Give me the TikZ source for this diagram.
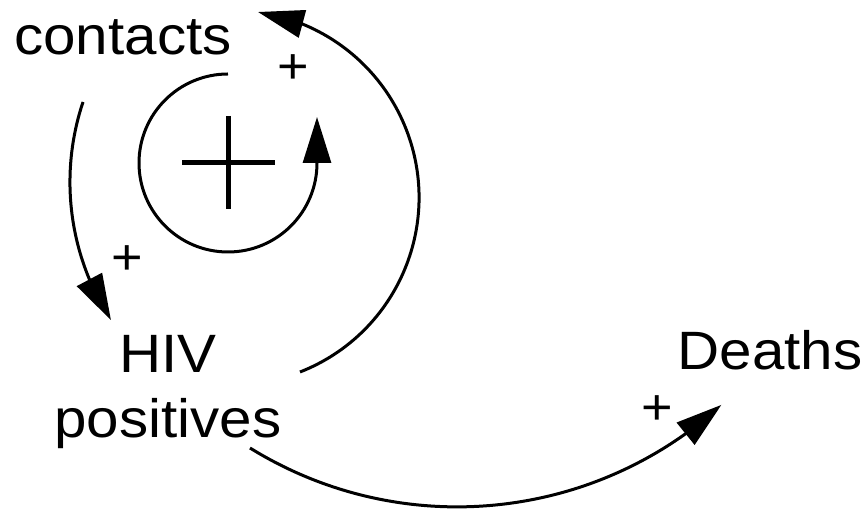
\documentclass[tikz,border=0pt]{standalone}
\usepackage{fontspec}
\setmainfont[FakeStretch=1.08]{Liberation Sans}
\usepackage{tikz}
\usetikzlibrary{arrows.meta,bending,calc}
\tikzset{>={Triangle[length=46pt,width=28pt]}}
\tikzset{var/.style={font=\fontsize{54}{65}\selectfont, inner sep=0pt, anchor=base},
  pol/.style={font=\fontsize{50}{60}\selectfont, inner sep=0pt},
  link/.style={->, line width=3pt}}

\begin{document}
\begin{tikzpicture}[x=1pt,y=1pt]
  \useasboundingbox (0,0) rectangle (866,510);
  % Variables
  \node[var] (contacts) at (123,455) {contacts};
  \node[var, align=center] (hiv) at (168,72) {HIV\\positives};
  \node[var] (deaths) at (770,140) {Deaths};

  % Ends of the links
  \coordinate (cOut) at ($(contacts.base)+(-40,-47)$);
  \coordinate (hUp) at ($(hiv.base)+(132,66)$);
  \coordinate (hDown) at ($(hiv.base)+(82,-10)$);
  \coordinate (loop) at (228,347);

  % Links (circular arcs)
  \draw[link] (cOut) arc[start angle=161.5, end angle=213.1, radius=252.6];
  \draw[link] (hUp) arc[start angle=-68.6, end angle=81.9, radius=187.4];
  \draw[link] (hDown) arc[start angle=-121.75, end angle=-47.8, radius=393.5];

  % Polarities
  \node[pol] (p1) at (127,250) {+};
  \node[pol] (p2) at (293,441) {+};
  \node[pol] (p3) at (657,100) {+};

  % Loop symbol
  \draw[link] ($(loop)+(0,89)$) arc[start angle=90, end angle=360, radius=89] -- ++(0,46);
  \draw[line width=5pt] ($(loop)+(-46,0)$) -- ($(loop)+(47,0)$);
  \draw[line width=5pt] ($(loop)+(0,47)$) -- ($(loop)+(0,-46)$);
\end{tikzpicture}
\end{document}
